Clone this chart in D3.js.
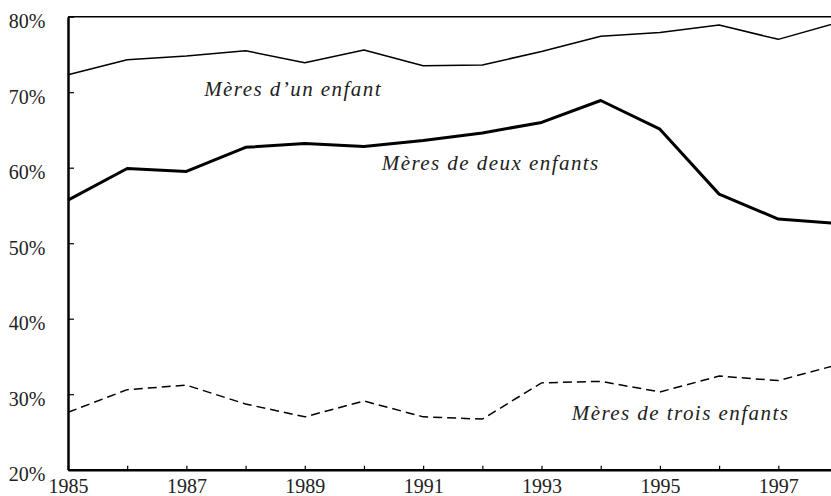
<!DOCTYPE html>
<html>
<head>
<meta charset="utf-8">
<script src="https://cdn.jsdelivr.net/npm/d3@7/dist/d3.min.js"></script>
<style>
  html, body { margin: 0; padding: 0; background: #fff; }
  svg { display: block; overflow: hidden; }
  text { font-family: "Liberation Serif", "Times New Roman", serif; fill: #222; }
</style>
</head>
<body>
<svg id="chart" width="831" height="496"></svg>
<script>
// Share of mothers in employment, by number of children, 1985-1998 (%)
const years = [1985, 1986, 1987, 1988, 1989, 1990, 1991, 1992, 1993, 1994, 1995, 1996, 1997, 1998];
const unEnfant    = [72.3, 74.3, 74.8, 75.5, 73.9, 75.6, 73.5, 73.6, 75.4, 77.4, 77.9, 78.9, 77.0, 79.2];
const deuxEnfants = [55.7, 59.9, 59.5, 62.7, 63.2, 62.8, 63.6, 64.6, 66.0, 68.9, 65.1, 56.5, 53.2, 52.6];
const troisEnfants = [27.6, 30.6, 31.2, 28.7, 27.0, 29.1, 27.0, 26.7, 31.5, 31.7, 30.3, 32.4, 31.8, 33.9];

const yTicks = [20, 30, 40, 50, 60, 70, 80];
const xTickLabels = [1985, 1987, 1989, 1991, 1993, 1995, 1997];

const seriesLabels = [
  { text: "Mères d’un enfant",       year: 1987.30, value: 69.54 },
  { text: "Mères de deux enfants",   year: 1990.30, value: 59.70 },
  { text: "Mères de trois enfants",  year: 1993.51, value: 26.58 }
];

const svg = d3.select("#chart");

const x = d3.scaleLinear().domain([1985, 1998]).range([68, 837.5]);
const y = d3.scaleLinear().domain([20, 80]).range([469.7, 16.7]);

// frame: top and right edges
svg.append("line")
  .attr("x1", x(1985)).attr("x2", x(1998))
  .attr("y1", y(80)).attr("y2", y(80))
  .attr("stroke", "#000").attr("stroke-width", 1.5);
svg.append("line")
  .attr("x1", x(1998)).attr("x2", x(1998))
  .attr("y1", y(80)).attr("y2", y(20))
  .attr("stroke", "#000").attr("stroke-width", 1.5);

// y axis
const yAxis = d3.axisLeft(y)
  .tickValues(yTicks)
  .tickFormat(d => d + "%")
  .tickSizeInner(-6)
  .tickSizeOuter(0)
  .tickPadding(22.5);

const gy = svg.append("g")
  .attr("transform", `translate(${x(1985)},0)`)
  .call(yAxis);
gy.select(".domain").attr("stroke", "#000").attr("stroke-width", 2.5);
gy.selectAll(".tick line").attr("stroke", "#000").attr("stroke-width", 1.2);
gy.selectAll(".tick text")
  .attr("dy", "0.55em")
  .style("font-size", "20px")
  .style("font-family", "'Liberation Serif', serif")
  .attr("fill", "#222");

// x axis
const xAxis = d3.axisBottom(x)
  .tickValues(years)
  .tickFormat(d => xTickLabels.includes(d) ? String(d) : "")
  .tickSizeInner(-4)
  .tickSizeOuter(0)
  .tickPadding(8.8);

const gx = svg.append("g")
  .attr("transform", `translate(0,${y(20)})`)
  .call(xAxis);
gx.select(".domain").attr("stroke", "#000").attr("stroke-width", 2.5);
gx.selectAll(".tick line").attr("stroke", "#000").attr("stroke-width", 1.2);
gx.selectAll(".tick text")
  .style("font-size", "20px")
  .style("font-family", "'Liberation Serif', serif")
  .attr("fill", "#222");

// series lines
const line = values => d3.line()
  .x((d, i) => x(years[i]))
  .y(d => y(d))(values);

svg.append("path")
  .attr("d", line(unEnfant))
  .attr("fill", "none").attr("stroke", "#000")
  .attr("stroke-width", 1.5).attr("stroke-linejoin", "round");

svg.append("path")
  .attr("d", line(deuxEnfants))
  .attr("fill", "none").attr("stroke", "#000")
  .attr("stroke-width", 3).attr("stroke-linejoin", "round");

svg.append("path")
  .attr("d", line(troisEnfants))
  .attr("fill", "none").attr("stroke", "#000")
  .attr("stroke-width", 1.5).attr("stroke-dasharray", "9,5");

// series labels
svg.selectAll("text.series")
  .data(seriesLabels)
  .join("text")
  .attr("class", "series")
  .attr("x", d => x(d.year))
  .attr("y", d => y(d.value))
  .style("font-family", "'Liberation Serif', serif")
  .style("font-size", "21px")
  .style("font-style", "italic")
  .style("letter-spacing", "1.45px")
  .attr("fill", "#222")
  .text(d => d.text);
</script>
</body>
</html>
